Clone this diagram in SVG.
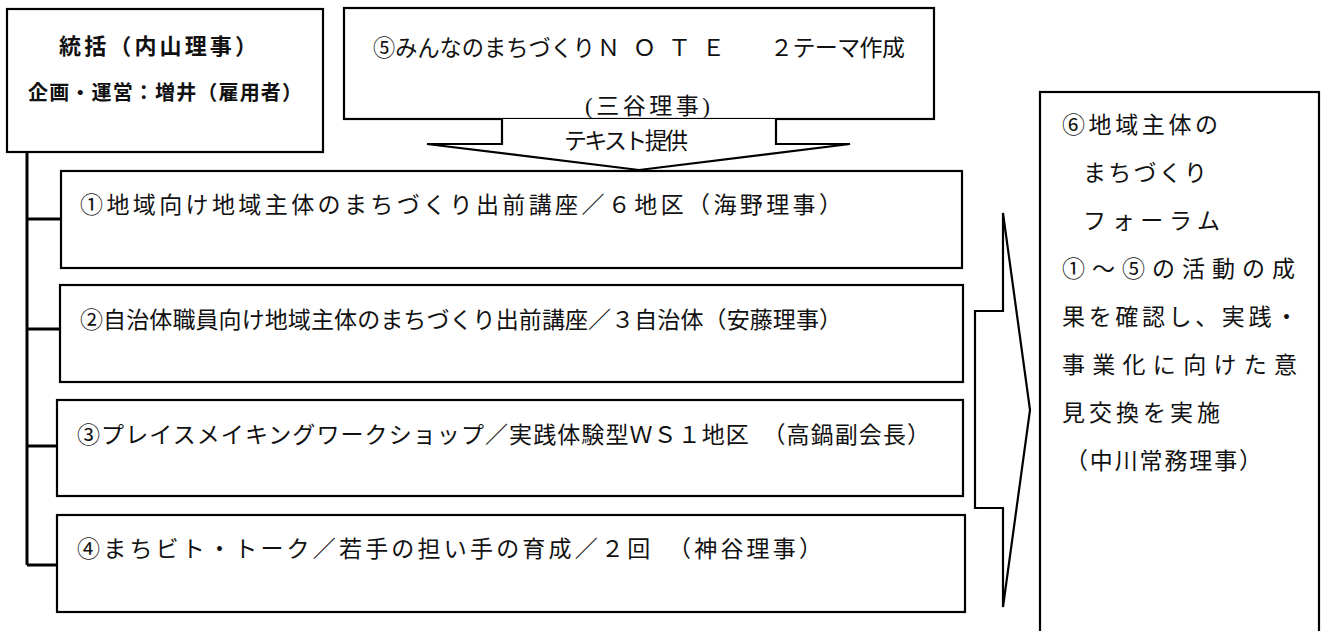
<svg xmlns="http://www.w3.org/2000/svg" width="1323" height="631" viewBox="0 0 1323 631">
<style>
.box{fill:#fff;stroke:#000;stroke-width:2.2}
.m{font-family:"Liberation Serif","Noto Sans CJK JP",serif;font-size:23px;fill:#111}
.g{font-family:"Liberation Sans","Noto Sans CJK JP",sans-serif;font-weight:bold;fill:#111}
.ln{fill:none;stroke:#000;stroke-width:3}
.ar{fill:#fff;stroke:#000;stroke-width:2.2;stroke-linejoin:miter}
</style>
<rect width="1323" height="631" fill="#fff"/>
<g id="node-toukatsu">
<rect class="box" x="7" y="9" width="316" height="143"/>
<text class="g" x="59" y="54" font-size="22" textLength="198" lengthAdjust="spacing">統括（内山理事）</text>
<text class="g" x="28" y="100" font-size="20" textLength="274" lengthAdjust="spacing">企画・運営：増井（雇用者）</text>
</g>
<g id="node-5">
<rect class="box" x="344" y="8" width="590" height="111"/>
<text class="m" y="56" font-size="21"><tspan x="373" textLength="222" lengthAdjust="spacingAndGlyphs">⑤みんなのまちづくり</tspan><tspan x="597 633 668 702">ＮＯＴＥ</tspan><tspan x="770" textLength="135" lengthAdjust="spacing">２テーマ作成</tspan></text>
<text class="m" x="585" y="114" font-size="22" textLength="125" lengthAdjust="spacing">(三谷理事)</text>
</g>
<g id="connectors">
<path class="ar" d="M502,119 L502,144 L427,144 L639,170 L850,144 L776,144 L776,119"/>
<text class="m" x="564" y="149" font-size="18" textLength="124" lengthAdjust="spacing">テキスト提供</text>
<path class="ln" d="M27,152 L27,565 M27,219 L61,219 M27,329 L60,329 M27,446 L57,446 M27,565 L57,565"/>
<polygon class="ar" points="975,311 1003,311 1003,213 1030,410 1003,607 1003,508 975,508"/>
</g>
<g id="node-1">
<rect class="box" x="61" y="171" width="901" height="97"/>
<text class="m" x="80" y="213" textLength="762" lengthAdjust="spacing">①地域向け地域主体のまちづくり出前講座／６地区（海野理事）</text>
</g>
<g id="node-2">
<rect class="box" x="60" y="285" width="903" height="97"/>
<text class="m" x="80" y="328" textLength="762" lengthAdjust="spacing">②自治体職員向け地域主体のまちづくり出前講座／３自治体（安藤理事）</text>
</g>
<g id="node-3">
<rect class="box" x="57" y="400" width="906" height="96"/>
<text class="m" x="77" y="443" textLength="853" lengthAdjust="spacing">③プレイスメイキングワークショップ／実践体験型ＷＳ１地区　（高鍋副会長）</text>
</g>
<g id="node-4">
<rect class="box" x="57" y="515" width="908" height="97"/>
<text class="m" x="77" y="557" textLength="745" lengthAdjust="spacing">④まちビト・トーク／若手の担い手の育成／２回　（神谷理事）</text>
</g>
<g id="node-6">
<rect class="box" x="1040" y="92" width="279" height="560"/>
<text class="m" x="1062" y="133" textLength="156" lengthAdjust="spacing">⑥地域主体の</text>
<text class="m" x="1083" y="181" textLength="124" lengthAdjust="spacing">まちづくり</text>
<text class="m" x="1083" y="229" textLength="137" lengthAdjust="spacing">フォーラム</text>
<text class="m" x="1062" y="277" textLength="233" lengthAdjust="spacing">①～⑤の活動の成</text>
<text class="m" x="1062" y="325" textLength="236" lengthAdjust="spacing">果を確認し、実践・</text>
<text class="m" x="1062" y="373" textLength="235" lengthAdjust="spacing">事業化に向けた意</text>
<text class="m" x="1062" y="421" textLength="158" lengthAdjust="spacing">見交換を実施</text>
<text class="m" x="1065" y="469" textLength="197" lengthAdjust="spacing">（中川常務理事）</text>
</g>
</svg>
